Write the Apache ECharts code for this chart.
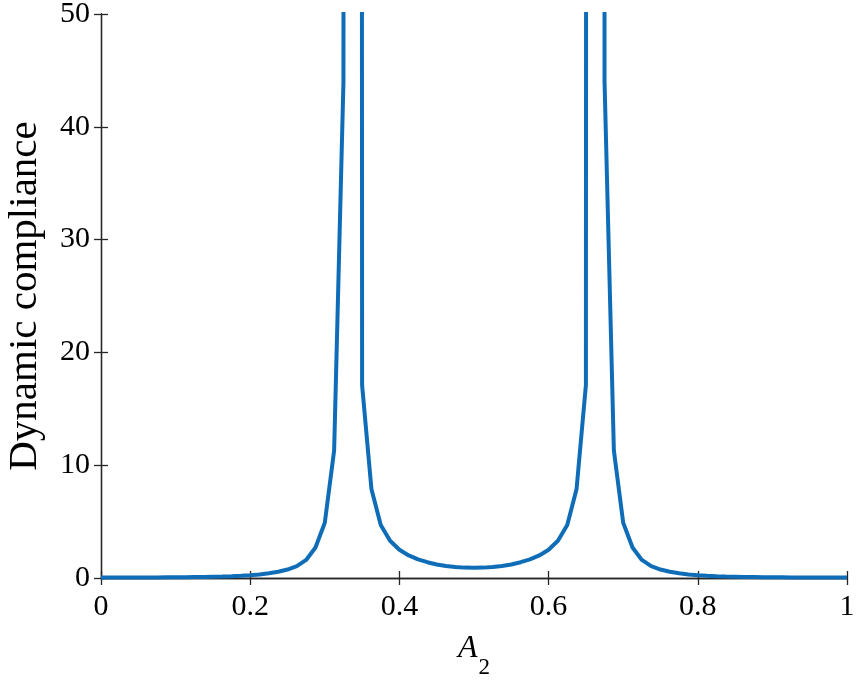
<!DOCTYPE html>
<html>
<head>
<meta charset="utf-8">
<script src="https://cdn.jsdelivr.net/npm/echarts@6/dist/echarts.min.js"></script>
<style>
html,body{margin:0;padding:0;background:#fff;}
#chart{width:857px;height:682px;}
</style>
</head>
<body>
<div id="chart"></div>
<script>
var xValues = [0, 0.0125, 0.025, 0.0375, 0.05, 0.0625, 0.075, 0.0875, 0.1, 0.1125,
  0.125, 0.1375, 0.15, 0.1625, 0.175, 0.1875, 0.2, 0.2125, 0.225, 0.2375,
  0.25, 0.2625, 0.275, 0.2875, 0.3, 0.3125, 0.325, 0.3375, 0.35, 0.3625,
  0.375, 0.3875, 0.4, 0.4125, 0.425, 0.4375, 0.45, 0.4625, 0.475, 0.4875,
  0.5, 0.5125, 0.525, 0.5375, 0.55, 0.5625, 0.575, 0.5875, 0.6, 0.6125,
  0.625, 0.6375, 0.65, 0.6625, 0.675, 0.6875, 0.7, 0.7125, 0.725, 0.7375,
  0.75, 0.7625, 0.775, 0.7875, 0.8, 0.8125, 0.825, 0.8375, 0.85, 0.8625,
  0.875, 0.8875, 0.9, 0.9125, 0.925, 0.9375, 0.95, 0.9625, 0.975, 0.9875, 1];
var complianceValues = [0.04, 0.04, 0.04, 0.04, 0.05, 0.05, 0.05, 0.06, 0.06, 0.07,
  0.08, 0.09, 0.11, 0.13, 0.16, 0.2, 0.25, 0.32, 0.42, 0.55,
  0.75, 1.05, 1.6, 2.7, 4.9, 11.3, 44, 2000, 17.1, 7.9,
  4.7, 3.3, 2.5, 2.0, 1.65, 1.4, 1.2, 1.07, 0.97, 0.92,
  0.9, 0.92, 0.97, 1.07, 1.2, 1.4, 1.65, 2.0, 2.5, 3.3,
  4.7, 7.9, 17.1, 2000, 44, 11.3, 4.9, 2.7, 1.6, 1.05,
  0.75, 0.55, 0.42, 0.32, 0.25, 0.2, 0.16, 0.13, 0.11, 0.09,
  0.08, 0.07, 0.06, 0.06, 0.05, 0.05, 0.05, 0.04, 0.04, 0.04, 0.04];
var xTicks = [0, 0.2, 0.4, 0.6, 0.8, 1];
var yTicks = [0, 10, 20, 30, 40, 50];

var points = xValues.map(function (x, i) { return [x, complianceValues[i]]; });
var axisColor = '#262626';
var font = '"Liberation Serif", "Times New Roman", serif';

var chart = echarts.init(document.getElementById('chart'), null, {renderer: 'canvas'});
chart.setOption({
  animation: false,
  backgroundColor: '#ffffff',
  grid: {left: 101, right: 10, top: 14, bottom: 104, containLabel: false, outerBoundsMode: 'none'},
  xAxis: [{
    type: 'value', min: 0, max: 1, interval: 0.2, position: 'bottom',
    name: '{a|A}{s|2}', nameLocation: 'middle', nameGap: 40,
    nameTextStyle: {
      rich: {
        a: {fontFamily: font, fontStyle: 'italic', fontSize: 32, color: '#000'},
        s: {fontFamily: font, fontSize: 23, color: '#000', padding: [38, 0, 0, 1]}
      }
    },
    axisLine: {show: true, lineStyle: {color: axisColor, width: 1.3}},
    axisTick: {show: true, inside: true, length: 7, lineStyle: {color: axisColor, width: 1.3}},
    axisLabel: {
      margin: 14, fontFamily: font, fontSize: 30, color: '#000',
      formatter: function (v) { var r = Math.round(v * 10) / 10; return xTicks.indexOf(r) >= 0 ? String(r) : ''; }
    },
    splitLine: {show: false}
  }, {
    type: 'value', min: 0, max: 1, interval: 0.2, position: 'top',
    axisLine: {show: true, lineStyle: {color: axisColor, width: 1.3}},
    axisTick: {show: true, inside: true, length: 7, lineStyle: {color: axisColor, width: 1.3}},
    axisLabel: {show: false},
    splitLine: {show: false}
  }],
  yAxis: [{
    type: 'value', min: 0, max: 50, interval: 10, position: 'left',
    name: 'Dynamic compliance', nameLocation: 'middle', nameGap: 55,
    nameTextStyle: {fontFamily: font, fontSize: 41, color: '#000'},
    axisLine: {show: true, lineStyle: {color: axisColor, width: 1.3}},
    axisTick: {show: true, inside: true, length: 7, lineStyle: {color: axisColor, width: 1.3}},
    axisLabel: {
      margin: 11, fontFamily: font, fontSize: 30, color: '#000',
      formatter: function (v) { return yTicks.indexOf(v) >= 0 ? String(v) : ''; }
    },
    splitLine: {show: false}
  }, {
    type: 'value', min: 0, max: 50, interval: 10, position: 'right',
    axisLine: {show: true, lineStyle: {color: axisColor, width: 1.3}},
    axisTick: {show: true, inside: true, length: 7, lineStyle: {color: axisColor, width: 1.3}},
    axisLabel: {show: false},
    splitLine: {show: false}
  }],
  series: [{
    type: 'line',
    data: points,
    xAxisIndex: 0, yAxisIndex: 0,
    showSymbol: false, symbol: 'none',
    clip: true,
    lineStyle: {color: '#0f6db8', width: 4},
    z: 1
  }]
});
</script>
</body>
</html>
